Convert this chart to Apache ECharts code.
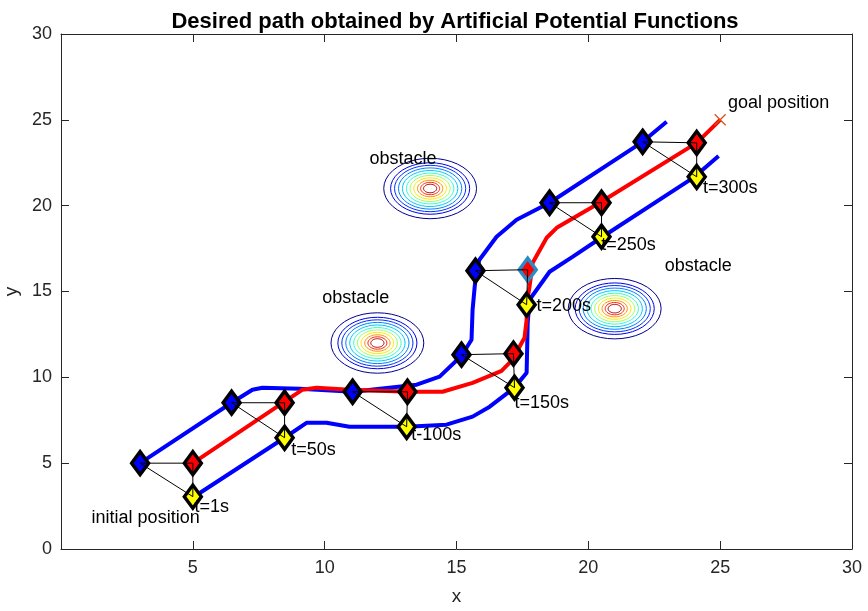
<!DOCTYPE html>
<html>
<head>
<meta charset="utf-8">
<script src="https://cdn.jsdelivr.net/npm/echarts@6/dist/echarts.min.js"></script>
<style>
  html, body { margin: 0; padding: 0; background: #fff; }
  #chart { width: 868px; height: 611px; }
</style>
</head>
<body>
<div id="chart"></div>
<script>
// Upper boundary of the corridor (blue)
const upperBoundary = [
  [3, 5], [6.47, 8.52], [7.26, 9.28], [7.64, 9.39], [9.05, 9.34], [11.06, 9.16],
  [13.49, 9.57], [14.36, 10.04], [15.19, 11.26], [15.57, 12.19], [15.61, 13.94],
  [15.69, 15.28], [15.76, 16.21], [15.87, 16.85], [16.52, 18.19], [17.28, 19.18],
  [18.53, 20.17], [22.06, 23.72], [22.97, 24.89]
];
// Desired path (red)
const desiredPath = [
  [5, 5], [9.16, 9.28], [9.69, 9.40], [10.94, 9.28], [13.22, 9.16], [14.47, 9.16],
  [15.61, 9.68], [16.71, 10.38], [17.09, 10.97], [17.39, 11.78], [17.58, 12.31],
  [17.66, 13.35], [17.66, 14.23], [17.77, 15.28], [17.89, 16.67], [18.42, 18.13],
  [18.80, 18.71], [20.43, 20.17], [24.11, 23.66], [25, 25]
];
// Lower boundary of the corridor (blue)
const lowerBoundary = [
  [5, 3], [8.48, 6.48], [9.31, 7.35], [10.07, 7.35], [10.94, 7.12], [13.11, 7.12],
  [14.62, 7.24], [15.61, 7.71], [16.26, 8.29], [17.20, 9.40], [17.66, 10.27],
  [17.70, 13.18], [17.77, 14.52], [18.53, 16.15], [19.40, 17.02], [20.54, 18.19],
  [24.03, 21.68], [24.94, 22.90]
];

// Vehicle positions at the sampled instants
const blueMarks   = [[3, 5], [6.47, 8.52], [11.06, 9.16], [15.19, 11.32], [15.72, 16.21], [18.53, 20.17], [22.06, 23.72]];
const redMarks    = [[5, 5], [8.48, 8.52], [13.14, 9.16], [17.16, 11.38], [17.70, 16.27], [20.50, 20.17], [24.11, 23.66]];
const yellowMarks = [[5, 3.05], [8.48, 6.48], [13.11, 7.12], [17.20, 9.40], [17.66, 14.23], [20.50, 18.19], [24.11, 21.68]];
const highlightedIndex = 4;

const goalPosition = [25, 25];

// Text annotations: [x, y, text]
const annotations = [
  [5.06, 2.45, 't=1s'],
  [8.73, 5.74, 't=50s'],
  [13.28, 6.66, 't-100s'],
  [17.2, 8.5, 't=150s'],
  [18.03, 14.13, 't=200s'],
  [20.49, 17.72, 't=250s'],
  [24.35, 21.03, 't=300s'],
  [1.16, 1.80, 'initial position'],
  [25.3, 26.0, 'goal position'],
  [11.7, 22.73, 'obstacle'],
  [9.91, 14.62, 'obstacle'],
  [22.9, 16.46, 'obstacle']
];

// Obstacle potential contours (outermost level first)
const obstacleCenters = [[14, 21], [12, 12], [21, 14]];
const contourRadii = [1.76, 1.50, 1.35, 1.20, 1.05, 0.90, 0.76, 0.62, 0.48, 0.36, 0.25];
const contourColors = ['#00008f', '#0000e6', '#0030ff', '#0080ff', '#00c8ff', '#30ffd0',
                       '#a0ff60', '#ffe800', '#ff9000', '#ff2000', '#b00000'];

const xTicks = [0, 5, 10, 15, 20, 25, 30];

const FONT = '"Liberation Sans", Arial, Helvetica, sans-serif';
const AXIS_COLOR = '#262626';

const contourData = [];
obstacleCenters.forEach(c => {
  contourRadii.forEach((r, i) => contourData.push([c[0], c[1], r, i]));
});

const triangles = blueMarks.map((b, i) => ({
  coords: [b, redMarks[i], yellowMarks[i], b]
}));

function diamondSeries(name, marks, fill, highlight) {
  return {
    name: name,
    type: 'scatter',
    data: marks.map((p, i) => {
      const item = { value: p };
      if (highlight && i === highlightedIndex) {
        item.itemStyle = { borderColor: '#2a8cc4' };
      }
      return item;
    }),
    symbol: 'diamond',
    symbolSize: [17, 23],
    itemStyle: { color: fill, borderColor: '#000', borderWidth: 3.5, opacity: 1 },
    z: 5,
    silent: true
  };
}

const valueAxisBase = {
  type: 'value',
  min: 0,
  max: 30,
  interval: 5,
  splitLine: { show: false },
  axisLine: { show: true, onZero: false, lineStyle: { color: AXIS_COLOR, width: 1 } },
  axisTick: { show: true, inside: true, length: 8, lineStyle: { color: AXIS_COLOR, width: 1 } }
};

const option = {
  backgroundColor: '#fff',
  animation: false,
  title: {
    text: 'Desired path obtained by Artificial Potential Functions',
    left: 450,
    textAlign: 'center',
    top: 6,
    textStyle: { fontFamily: FONT, fontSize: 22, fontWeight: 'bold', color: '#000' }
  },
  grid: { left: 61, right: 16, top: 34, bottom: 62, outerBoundsMode: 'none', containLabel: false },
  xAxis: [
    Object.assign({}, valueAxisBase, {
      position: 'bottom',
      name: 'x',
      nameLocation: 'middle',
      nameGap: 38,
      nameTextStyle: { fontFamily: FONT, fontSize: 19, color: AXIS_COLOR },
      axisLabel: {
        fontFamily: FONT, fontSize: 18, color: AXIS_COLOR, margin: 10,
        formatter: v => (v === xTicks[0] ? '' : String(v))
      }
    }),
    Object.assign({}, valueAxisBase, { position: 'top', axisLabel: { show: false } })
  ],
  yAxis: [
    Object.assign({}, valueAxisBase, {
      position: 'left',
      name: 'y',
      nameLocation: 'middle',
      nameGap: 32,
      nameTextStyle: { fontFamily: FONT, fontSize: 19, color: AXIS_COLOR },
      axisLabel: { fontFamily: FONT, fontSize: 18, color: AXIS_COLOR, margin: 9 }
    }),
    Object.assign({}, valueAxisBase, { position: 'right', axisLabel: { show: false } })
  ],
  series: [
    {
      name: 'obstacles',
      type: 'custom',
      coordinateSystem: 'cartesian2d',
      data: contourData,
      silent: true,
      z: 1,
      renderItem: function (params, api) {
        const c = api.coord([api.value(0), api.value(1)]);
        const r = api.value(2);
        const rx = api.size([r, 0])[0];
        const ry = api.size([0, r])[1];
        const n = 40;
        const pts = [];
        for (let k = 0; k < n; k++) {
          const a = (k / n) * Math.PI * 2;
          pts.push([c[0] + rx * Math.cos(a), c[1] + ry * Math.sin(a)]);
        }
        return {
          type: 'polygon',
          shape: { points: pts },
          style: { fill: 'none', stroke: contourColors[api.value(3)], lineWidth: 1 }
        };
      }
    },
    {
      name: 'upper boundary',
      type: 'line',
      data: upperBoundary,
      showSymbol: false,
      lineStyle: { color: '#0000ff', width: 4 },
      z: 2,
      silent: true
    },
    {
      name: 'lower boundary',
      type: 'line',
      data: lowerBoundary,
      showSymbol: false,
      lineStyle: { color: '#0000ff', width: 4 },
      z: 2,
      silent: true
    },
    {
      name: 'desired path',
      type: 'line',
      data: desiredPath,
      showSymbol: false,
      lineStyle: { color: '#ff0000', width: 4 },
      z: 3,
      silent: true
    },
    diamondSeries('blue', blueMarks, '#0000ff', false),
    diamondSeries('red', redMarks, '#ff0000', true),
    diamondSeries('yellow', yellowMarks, '#ffff00', false),
    {
      name: 'links',
      type: 'lines',
      coordinateSystem: 'cartesian2d',
      polyline: true,
      data: triangles,
      lineStyle: { color: '#000', width: 1, opacity: 1 },
      z: 6,
      silent: true
    },
    {
      name: 'goal',
      type: 'scatter',
      data: [goalPosition],
      symbol: 'path://M0,0L10,10M10,0L0,10',
      symbolSize: 11,
      itemStyle: { color: 'none', borderColor: '#d95319', borderWidth: 1.3, opacity: 1 },
      z: 7,
      silent: true
    },
    {
      name: 'annotations',
      type: 'scatter',
      data: annotations.map(a => ({ value: [a[0], a[1]], name: a[2] })),
      symbolSize: 0,
      itemStyle: { opacity: 1 },
      z: 8,
      silent: true,
      label: {
        show: true,
        position: 'right',
        distance: 0,
        formatter: p => p.name,
        fontFamily: FONT,
        fontSize: 18,
        color: '#000'
      }
    }
  ]
};

const chart = echarts.init(document.getElementById('chart'), null, { renderer: 'canvas' });
chart.setOption(option);
</script>
</body>
</html>
